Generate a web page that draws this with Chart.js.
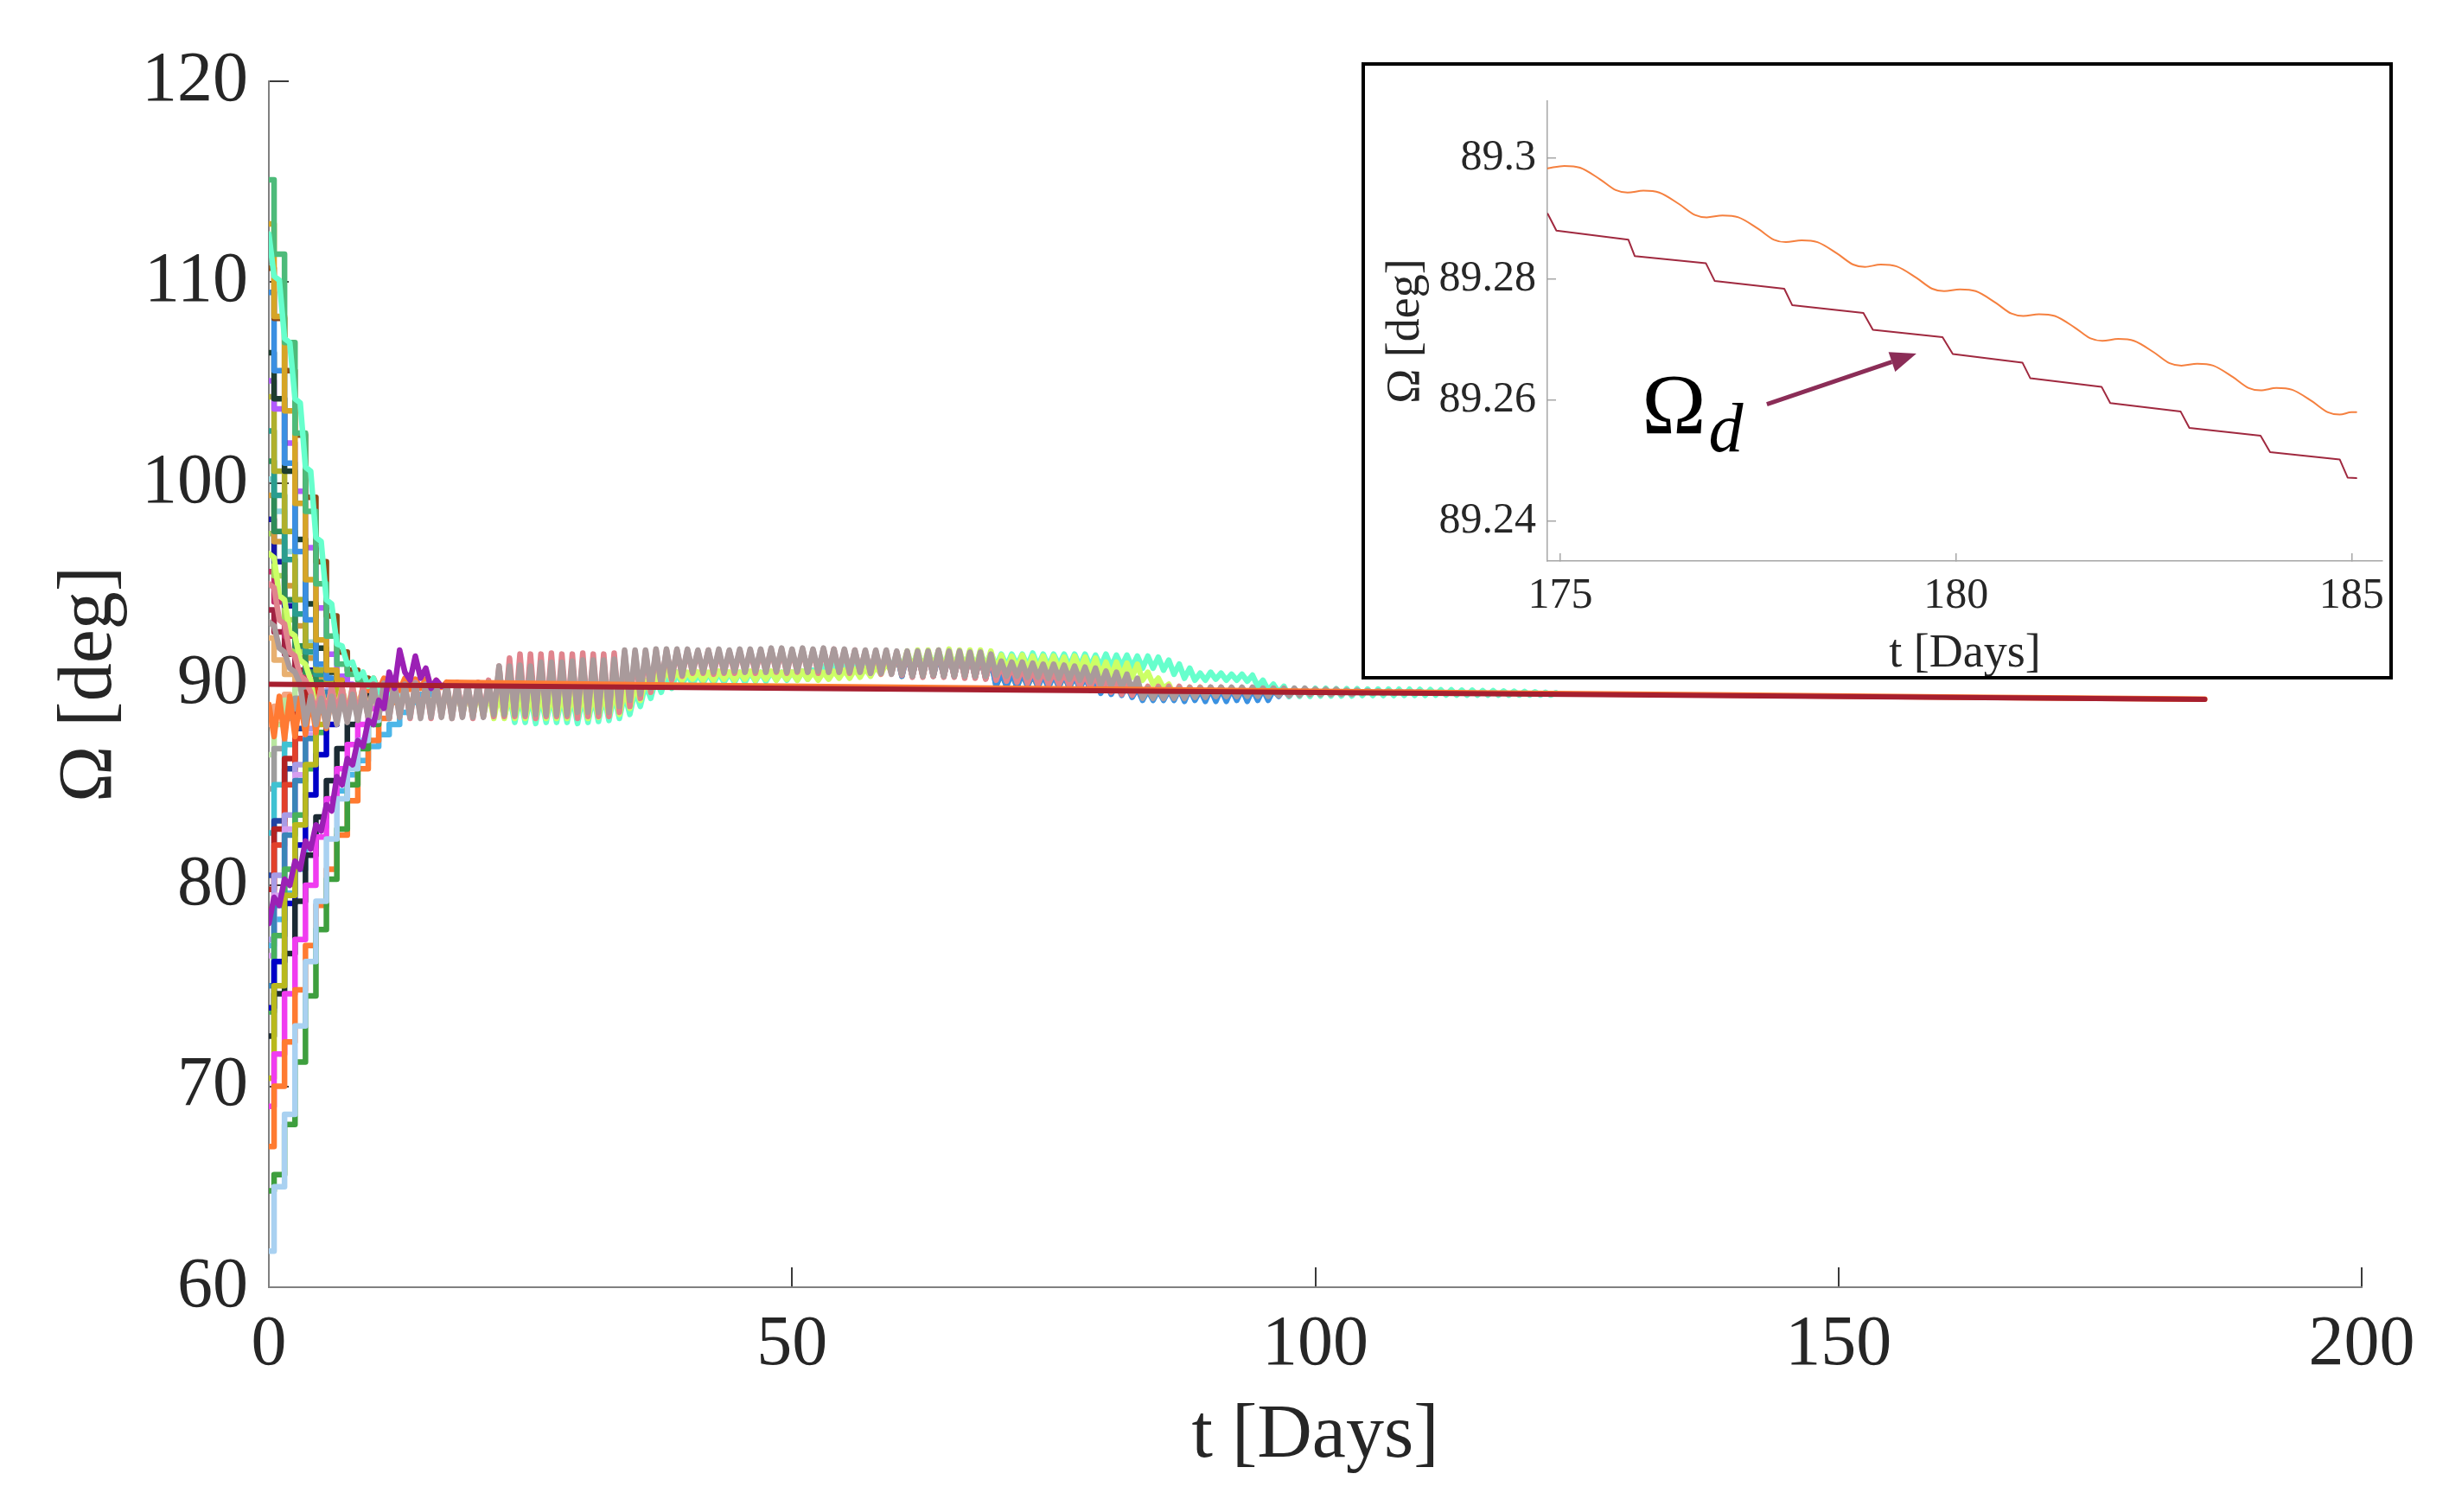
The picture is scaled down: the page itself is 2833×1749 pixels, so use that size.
<!DOCTYPE html>
<html>
<head>
<meta charset="utf-8">
<script src="https://cdn.jsdelivr.net/npm/chart.js@4.4.1/dist/chart.umd.min.js"></script>
<style>
  html, body { margin: 0; padding: 0; background: #fff; overflow: hidden; }
  #main { position: absolute; left: 0; top: 0; }
  #insetBox { position: absolute; left: 1575px; top: 72px; width: 1185px; height: 706px;
              border: 4px solid #000; background: #fff; }
  #inset { position: absolute; left: 0; top: 0; }
</style>
</head>
<body>
<canvas id="main" width="2833" height="1749"></canvas>
<div id="insetBox"><canvas id="inset" width="1185" height="706"></canvas></div>
<script>
// tick labels
var xTicksMain = [0, 50, 100, 150, 200];
var yTicksMain = [60, 70, 80, 90, 100, 110, 120];
var xTicksInset = [175, 180, 185];
var yTicksInset = [89.24, 89.26, 89.28, 89.3];

// desired node Omega_d (straight in the main plot)
var omegaDT = [0, 185];
var omegaDV = [90.0, 89.247];

// transients, one value per day from t = 0
var trGreen    = [115.1, 111.4, 107.0, 102.5, 98.6, 95.0, 92.4, 91.0, 90.5, 90.2];
var trGold     = [112.9, 108.3, 103.6, 99.0, 95.2, 92.2, 90.7, 90.2];
var trBrown    = [110.7, 108.2, 105.6, 102.4, 99.3, 96.1, 93.4, 91.6, 90.7, 90.3, 90.1];
var trBlue     = [109.5, 105.6, 101.0, 96.6, 93.2, 91.0, 90.3];
var trDark     = [106.5, 104.2, 100.6, 97.2, 94.0, 91.8, 90.6, 90.1];
var trViolet   = [105.1, 103.7, 102.0, 99.6, 96.8, 93.8, 91.5, 90.4, 90.0];
var trOlive    = [104.3, 100.6, 97.6, 94.2, 91.9, 90.7, 90.2];
var trTeal     = [102.6, 99.4, 96.2, 93.5, 91.6, 90.5, 90.1];
var trDkGreen  = [101.1, 97.6, 94.2, 91.9, 90.6, 90.1];
var trLtCyan   = [100.2, 98.6, 96.6, 94.2, 92.1, 90.9, 90.3];
var trGold2    = [99.4, 97.1, 94.9, 92.9, 91.3, 90.4];
var trNavy     = [98.2, 96.1, 93.9, 91.9, 90.7, 90.1];
var trLime2    = [97.5, 95.4, 93.2, 91.6, 90.6, 90.2];
var trCrimson  = [95.6, 94.1, 92.4, 91.3, 90.5, 90.1];
var trMaroon   = [93.7, 92.6, 91.5, 90.7, 90.2];
var trPeach    = [92.3, 91.2, 90.5, 90.1];
var trLtBlue   = [61.8, 65.0, 68.6, 73.0, 76.2, 79.2, 82.3, 84.3, 85.8, 87.2, 88.2, 88.9, 89.4, 89.8];
var trGreen2   = [64.8, 65.6, 68.1, 71.2, 74.5, 77.8, 80.3, 82.8, 85.0, 86.8, 88.0, 89.0, 89.6];
var trOrange   = [67.0, 70.0, 72.2, 74.8, 77.0, 79.0, 80.8, 82.5, 84.2, 85.8, 87.2, 88.3, 89.1, 89.6];
var trMagenta  = [69.0, 71.6, 74.6, 77.3, 80.0, 82.4, 84.3, 85.8, 87.0, 88.0, 88.8, 89.4];
var trOlive2   = [70.4, 75.0, 79.5, 83.0, 86.0, 88.0, 89.2, 89.8];
var trBlack    = [72.5, 74.6, 76.6, 79.2, 81.5, 83.4, 85.2, 86.8, 88.0, 89.0, 89.6];
var trBlue2    = [73.9, 76.2, 79.1, 82.0, 84.5, 86.5, 88.0, 89.2];
var trGreen3   = [73.7, 77.5, 80.8, 83.5, 85.8, 87.6, 88.8, 89.6];
var trSteel    = [75.0, 79.0, 82.5, 85.2, 87.3, 88.7, 89.6];
var trOrchid   = [76.5, 79.5, 82.8, 85.5, 87.5, 88.8, 89.6];
var trLavender = [77.3, 80.5, 83.5, 86.0, 87.8, 89.0, 89.7];
var trSky      = [77.0, 78.3, 79.6, 80.8, 81.9, 82.9, 83.8, 84.7, 85.5, 86.2, 86.9, 87.5, 88.0, 88.6, 89.1, 89.5, 89.8];
var trRed      = [78.8, 82.0, 85.0, 87.3, 88.8, 89.7];
var trDkRed    = [79.8, 82.8, 86.3, 88.5, 89.6, 90.0];
var trRoyal    = [80.5, 83.2, 85.8, 87.8, 89.0, 89.7];
var trCyan     = [82.6, 85.0, 87.0, 88.4, 89.4];
var trGray     = [84.8, 86.8, 88.3, 89.3, 89.8];
var trPale     = [86.5, 88.0, 89.2, 89.8];
var trSalmon   = [88.0, 88.9, 89.5];

// oscillating band, one value per half day
var bandPink = [
  95.0, 94.8, 93.2, 93.0, 91.6, 91.4, 90.4, 90.2, 89.6,
  88.5, 89.8, 88.4, 89.9, 88.5, 89.8, 88.4, 89.9, 88.4, 89.9,
  88.3, 90.0, 88.4, 90.0, 88.3, 90.1, 88.4, 90.0, 88.3, 90.1,
  88.4, 90.0, 88.3, 90.1, 88.4, 90.0, 88.3, 90.1, 88.4, 90.0,
  88.3, 90.1, 88.4, 90.2, 88.4, 90.9, 88.4, 91.3,
  88.4, 91.5, 88.4, 91.5, 88.3, 91.5, 88.4, 91.55, 88.4, 91.5,
  88.4, 91.5, 88.3, 91.55, 88.4, 91.5, 88.4, 91.5, 88.4, 91.55,
  88.6, 91.6, 88.9, 91.6, 89.3, 91.65, 89.6, 91.7, 89.95, 91.7,
  90.2, 91.7, 90.4, 91.7,
  90.55, 91.65, 90.55, 91.7, 90.5, 91.65, 90.55, 91.65, 90.55, 91.7,
  90.6, 91.7, 90.55, 91.7, 90.6, 91.75, 90.6, 91.75, 90.55, 91.7,
  90.6, 91.75, 90.6, 91.7, 90.55, 91.75, 90.6, 91.75, 90.6, 91.7,
  90.55, 91.7, 90.6, 91.65, 90.55, 91.65, 90.5, 91.65, 90.5, 91.6, 90.45, 91.6,
  90.35, 91.6, 90.35, 91.6, 90.4, 91.65, 90.35, 91.6, 90.35, 91.6, 90.3, 91.55, 90.3, 91.5, 90.25, 91.3,
  90.2, 90.95, 90.15, 90.9, 90.1, 90.8, 90.05, 90.7, 90.0, 90.65,
  90.0, 90.6, 90.0, 90.55, 89.95, 90.55, 89.9, 90.5, 89.85, 90.45,
  89.7, 90.3, 89.6, 90.2, 89.5, 90.05, 89.45, 89.95,
  89.35, 89.9, 89.35, 89.9, 89.3, 89.9, 89.35, 89.9, 89.35, 89.85,
  89.4, 89.85, 89.4, 89.85, 89.4, 89.85, 89.4, 89.8, 89.4, 89.8,
  89.45, 89.8, 89.45, 89.8, 89.45, 89.8, 89.45, 89.75, 89.45, 89.75,
  89.5, 89.75, 89.5, 89.75, 89.5, 89.7, 89.5, 89.7, 89.55, 89.7, 89.55, 89.7,
  89.55, 89.68, 89.56, 89.66, 89.57, 89.65, 89.57, 89.64, 89.58, 89.63, 89.58, 89.62
];
var bandGray = [
  93.1, 92.9, 91.8, 91.6, 90.8, 90.6, 90.0,
  88.0, 89.4, 88.0, 89.3, 87.9, 89.4, 88.0, 89.4, 88.1, 89.5, 88.2, 89.6,
  88.35, 90.0, 88.35, 90.05, 88.3, 90.0, 88.35, 90.0, 88.35, 90.05, 88.3, 90.0,
  88.35, 90.0, 88.35, 90.05, 88.3, 90.0, 88.35, 90.0, 88.35, 90.05, 88.35, 90.1,
  88.5, 90.9, 88.5, 90.9, 88.5, 90.95, 88.5, 90.9, 88.5, 91.1, 88.5, 91.1,
  88.5, 91.1, 88.5, 91.15, 88.6, 91.2, 88.6, 91.2, 88.6, 91.2, 88.6, 91.25,
  88.9, 91.7, 89.2, 91.7, 89.5, 91.7, 89.8, 91.75, 90.0, 91.75, 90.3, 91.75, 90.45, 91.75,
  90.6, 91.7, 90.6, 91.7, 90.6, 91.75, 90.6, 91.7, 90.65, 91.75,
  90.6, 91.75, 90.65, 91.75, 90.6, 91.8, 90.65, 91.8, 90.6, 91.75,
  90.65, 91.8, 90.6, 91.75, 90.65, 91.8, 90.6, 91.75, 90.6, 91.75,
  90.6, 91.7, 90.6, 91.7, 90.55, 91.7, 90.55, 91.7, 90.5, 91.65, 90.5, 91.65,
  90.4, 91.65, 90.4, 91.65, 90.45, 91.7, 90.4, 91.65, 90.4, 91.65, 90.4, 91.6, 90.4, 91.6, 90.4, 91.5,
  90.45, 91.15, 90.4, 91.1, 90.4, 91.1, 90.35, 91.05, 90.35, 91.0,
  90.3, 91.0, 90.3, 90.95, 90.25, 90.9, 90.2, 90.85, 90.1, 90.8,
  89.95, 90.65, 89.9, 90.6, 89.85, 90.5, 89.7, 90.3,
  89.3, 89.8, 89.3, 89.8, 89.3, 89.8, 89.3, 89.8, 89.3, 89.8, 89.35, 89.8, 89.35, 89.85,
  89.4, 89.85, 89.4, 89.85, 89.4, 89.85, 89.4, 89.85, 89.4, 89.8, 89.4, 89.8, 89.45, 89.8,
  89.45, 89.8, 89.45, 89.8, 89.5, 89.75, 89.5, 89.75, 89.5, 89.75, 89.5, 89.7, 89.5, 89.7,
  89.55, 89.68, 89.56, 89.66, 89.57, 89.65, 89.57, 89.64, 89.58, 89.63, 89.58, 89.62
];
var bandLime = [
  96.5, 96.3, 94.4, 94.2, 92.6, 92.4, 91.2, 91.0, 90.2,
  88.6, 89.8, 88.6, 89.8, 88.7, 89.8, 88.6, 89.85, 88.6, 89.8,
  88.6, 89.8, 88.65, 89.8, 88.6, 89.8, 88.6, 89.85, 88.6, 89.8,
  88.6, 89.8, 88.6, 89.8, 88.55, 89.8, 88.6, 89.75, 88.5, 89.7, 88.4, 89.7, 88.4, 89.65,
  88.3, 89.6, 88.3, 89.6, 88.3, 89.6, 88.3, 89.55, 88.3, 89.6, 88.3, 89.6, 88.3, 89.6,
  88.3, 89.6, 88.35, 89.6, 88.3, 89.6, 88.35, 89.6, 88.4, 89.65, 88.5, 89.7,
  88.8, 89.9, 89.2, 90.2, 89.6, 90.5, 90.0, 90.7,
  90.2, 90.6, 90.2, 90.6, 90.25, 90.6, 90.2, 90.6, 90.2, 90.65,
  90.25, 90.6, 90.2, 90.6, 90.25, 90.65, 90.2, 90.6, 90.25, 90.65,
  90.2, 90.6, 90.25, 90.6, 90.2, 90.65, 90.25, 90.6, 90.2, 90.6,
  90.25, 90.65, 90.3, 90.7, 90.3, 90.75, 90.35, 90.8, 90.4, 90.9, 90.5, 91.1, 90.6, 91.4,
  90.7, 91.65, 90.7, 91.7, 90.7, 91.7, 90.75, 91.7, 90.7, 91.75, 90.7, 91.7, 90.75, 91.7, 90.7, 91.7, 90.7, 91.65,
  90.7, 91.45, 90.7, 91.4, 90.75, 91.45, 90.7, 91.4, 90.7, 91.4,
  90.7, 91.4, 90.7, 91.35, 90.65, 91.4, 90.7, 91.35, 90.6, 91.3,
  90.45, 91.1, 90.4, 91.1, 90.4, 91.05, 90.35, 91.0,
  90.2, 90.6, 90.0, 90.3, 89.8, 90.0,
  89.45, 89.85, 89.45, 89.85, 89.45, 89.85, 89.45, 89.8, 89.45, 89.8, 89.5, 89.8, 89.5, 89.8,
  89.5, 89.75, 89.5, 89.75, 89.5, 89.75, 89.55, 89.7, 89.55, 89.7, 89.55, 89.7, 89.55, 89.68
];
var bandAqua = [
  112.4, 110.3, 110.1, 107.2, 107.0, 104.2, 104.0, 100.8, 100.6,
  97.3, 97.1, 94.2, 94.0, 92.0, 91.9, 91.0, 91.1,
  90.3, 90.6, 89.9, 90.3, 89.5, 90.0, 89.2, 89.8, 89.0, 89.7,
  88.8, 89.65, 88.8, 89.65, 88.85, 89.7, 88.8, 89.65, 88.8, 89.6,
  88.8, 89.65, 88.75, 89.6, 88.7, 89.6, 88.6, 89.5, 88.4, 89.45,
  88.1, 89.4, 88.1, 89.4, 88.05, 89.4, 88.1, 89.45, 88.1, 89.4, 88.1, 89.4,
  88.05, 89.4, 88.1, 89.4, 88.15, 89.45, 88.2, 89.5, 88.3, 89.55,
  88.5, 89.7, 88.9, 90.0, 89.3, 90.3, 89.6, 90.5, 89.8, 90.6, 90.0,
  90.5, 90.0, 90.5, 90.05, 90.55, 90.05, 90.55, 90.1, 90.55, 90.1, 90.6, 90.1, 90.6,
  90.15, 90.6, 90.15, 90.6, 90.2, 90.6, 90.2, 90.6, 90.2, 90.65, 90.25, 90.7,
  90.4, 90.9, 90.45, 91.0, 90.5, 91.1, 90.5, 91.2, 90.55, 91.3, 90.6, 91.35, 90.7, 91.4, 90.75, 91.5, 90.8, 91.55,
  90.85, 91.6, 90.85, 91.6, 90.9, 91.65, 90.85, 91.6, 90.85, 91.6, 90.9, 91.6, 90.85, 91.6, 90.9, 91.55,
  90.9, 91.5, 90.9, 91.5, 90.95, 91.5, 90.9, 91.55, 90.9, 91.5, 90.9, 91.5, 90.95, 91.5, 90.9, 91.5,
  90.9, 91.5, 90.9, 91.45, 90.9, 91.5, 90.85, 91.45, 90.9, 91.45, 90.85, 91.4, 90.8, 91.4, 90.8, 91.35,
  90.7, 91.2, 90.5, 91.0, 90.3, 90.8,
  90.2, 90.55, 90.2, 90.6, 90.25, 90.55, 90.2, 90.5, 90.2, 90.5, 90.15, 90.45,
  89.9, 90.2, 89.7, 90.0, 89.6, 89.9,
  89.4, 89.8, 89.4, 89.8, 89.4, 89.8, 89.42, 89.8, 89.42, 89.78, 89.42, 89.78, 89.42, 89.78,
  89.44, 89.76, 89.44, 89.76, 89.44, 89.76, 89.44, 89.75, 89.45, 89.75, 89.45, 89.74,
  89.45, 89.73, 89.46, 89.72, 89.46, 89.72, 89.46, 89.7, 89.46, 89.7, 89.46, 89.68, 89.46, 89.68,
  89.46, 89.66, 89.46, 89.65, 89.46, 89.64, 89.46, 89.62, 89.46, 89.6, 89.46, 89.58
];
var bandBlue = [
  91.5, 90.4, 91.5, 90.4, 91.5, 90.45, 91.55, 90.4, 91.5, 90.4, 91.5, 90.4, 91.5, 90.4, 91.45, 90.35, 91.4, 90.3, 91.2,
  89.9, 90.6, 89.9, 90.6, 89.85, 90.6, 89.9, 90.55, 89.85, 90.5, 89.8, 90.5, 89.85, 90.5, 89.8, 90.45, 89.75, 90.4, 89.7, 90.3,
  89.55, 90.1, 89.5, 90.05, 89.45, 89.95, 89.35, 89.8,
  89.2, 89.7, 89.2, 89.7, 89.2, 89.7, 89.2, 89.75, 89.15, 89.75, 89.2, 89.7, 89.15, 89.75,
  89.15, 89.75, 89.15, 89.75, 89.2, 89.75, 89.15, 89.75, 89.2, 89.75, 89.2, 89.7,
  89.4, 89.75, 89.4, 89.75, 89.45, 89.72, 89.45, 89.72, 89.48, 89.7, 89.5, 89.7, 89.5, 89.68, 89.52, 89.66
];
var bandGold = [
  91.55, 90.4, 91.55, 90.4, 91.55, 90.4, 91.6, 90.4, 91.55, 90.4, 91.55, 90.4, 91.5, 90.4, 91.5, 90.35, 91.4, 90.3, 91.2,
  89.95, 90.5, 89.95, 90.5, 89.9, 90.5, 89.95, 90.45, 89.9, 90.45, 89.9, 90.45, 89.9, 90.4, 89.85, 90.4, 89.85, 90.35, 89.8, 90.3,
  89.6, 90.2, 89.6, 90.15, 89.55, 90.05, 89.45, 89.9,
  89.35, 89.8, 89.35, 89.8, 89.35, 89.8, 89.35, 89.8, 89.35, 89.8, 89.4, 89.8,
  89.4, 89.8, 89.4, 89.75, 89.4, 89.75, 89.45, 89.75, 89.45, 89.75, 89.45, 89.7
];
var bandOrange = [
  89.0, 87.4, 89.4, 87.3, 89.4, 87.4, 89.3, 87.5, 89.4, 87.6, 89.4, 87.8, 89.5,
  88.3, 89.8, 88.4, 89.8, 88.6, 89.9,
  89.7, 90.3, 89.7, 90.3, 89.75, 90.3, 89.7, 90.3, 89.75, 90.25, 89.8, 90.25, 89.8, 90.2, 89.85, 90.1
];
var bandPurple = [
  78.1, 79.4, 79.0, 80.3, 80.0, 81.2, 80.8, 82.2, 81.8, 83.0, 82.7, 84.0, 83.7, 85.4, 85.0, 86.3, 86.0, 87.2,
  86.9, 88.2, 88.0, 89.2, 88.8, 90.6, 89.8, 91.7, 90.6, 90.2, 91.4, 90.3, 90.8, 89.8, 90.2, 89.9, 90.0
];
var orangeLongT = [17, 40, 60, 80, 100, 120, 140, 160, 175, 185];
var orangeLongV = [90.1, 89.95, 89.85, 89.75, 89.64, 89.55, 89.46, 89.37, 89.30, 89.26];

// inset, t = 175..185
var insetRedT = [174.84, 174.95, 175.86, 175.94, 176.84, 176.95, 177.83, 177.93, 178.83, 178.95, 179.83, 179.96,
                 180.84, 180.94, 181.84, 181.95, 182.84, 182.95, 183.85, 183.97, 184.85, 184.95, 185.06];
var insetRedV = [89.2908, 89.2880, 89.2865, 89.2838, 89.2826, 89.2797, 89.2784, 89.2757, 89.2744, 89.2716, 89.2704, 89.2676,
                 89.2662, 89.2636, 89.2622, 89.2595, 89.2581, 89.2554, 89.2541, 89.2514, 89.2502, 89.2472, 89.2471];
var insetOrangeT = [174.84,
  175.05, 175.25, 175.5, 175.7, 175.85, 176.05, 176.25, 176.5, 176.7, 176.85,
  177.05, 177.25, 177.5, 177.7, 177.85, 178.05, 178.25, 178.5, 178.7, 178.85,
  179.05, 179.25, 179.5, 179.7, 179.85, 180.05, 180.25, 180.5, 180.7, 180.85,
  181.05, 181.25, 181.5, 181.7, 181.85, 182.05, 182.25, 182.5, 182.7, 182.85,
  183.05, 183.25, 183.5, 183.7, 183.85, 184.05, 184.25, 184.5, 184.7, 184.85, 185.0, 185.06];
var insetOrangeV = [89.2983,
  89.2987, 89.2984, 89.2965, 89.2947, 89.2943, 89.2946, 89.2943, 89.2924, 89.2906, 89.2902,
  89.2905, 89.2902, 89.2883, 89.2865, 89.2861, 89.2864, 89.2861, 89.2842, 89.2824, 89.2820,
  89.2824, 89.2821, 89.2802, 89.2784, 89.2780, 89.2783, 89.2780, 89.2761, 89.2743, 89.2739,
  89.2742, 89.2739, 89.2720, 89.2702, 89.2698, 89.2701, 89.2698, 89.2679, 89.2661, 89.2657,
  89.2660, 89.2657, 89.2638, 89.2620, 89.2616, 89.2620, 89.2617, 89.2598, 89.2580, 89.2576, 89.2580, 89.2580];
var omegaLabel = { x: 176.03, y: 89.2545 };
var omegaArrow = { x0: 177.61, y0: 89.2593, x1: 179.50, y1: 89.2677 };

var SERIF = "'Liberation Serif', 'Times New Roman', serif";
var TXT = '#262626';
var LW = 6.5;

function pairs(ts, vs) { return vs.map(function (v, i) { return { x: ts[i], y: v }; }); }
function grid(vs, t0, dt) { return vs.map(function (v, i) { return { x: t0 + i * dt, y: v }; }); }

var transients = [
  [trGreen, '#4dbb7a'], [trGold, '#d6a526'], [trBrown, '#8c4a16'], [trBlue, '#3b8fe2'],
  [trDark, '#1d3d2f'], [trViolet, '#b25cff'], [trOlive, '#b0b02c'], [trTeal, '#2a9d8f'],
  [trDkGreen, '#2f8c58'], [trLtCyan, '#8fd5dc'], [trGold2, '#cf9a3c'], [trNavy, '#1616a6'],
  [trLime2, '#a6d85a'], [trCrimson, '#c2306b'], [trMaroon, '#a12242'], [trPeach, '#e8b070'],
  [trLtBlue, '#a9d1f1'], [trGreen2, '#3e9f3e'], [trOrange, '#ff7b31'], [trMagenta, '#f03cf0'],
  [trOlive2, '#b9b91d'], [trBlack, '#1b2a33'], [trBlue2, '#0000c8'], [trGreen3, '#48b15b'],
  [trSteel, '#3a84b8'], [trOrchid, '#d69ef0'], [trLavender, '#a89ce6'], [trSky, '#4cb6e8'],
  [trRed, '#e2402b'], [trDkRed, '#b22222'], [trRoyal, '#2144a3'], [trCyan, '#3fc2d2'],
  [trGray, '#9e9e9e'], [trPale, '#b9e6a0'], [trSalmon, '#f4a582']
];

function line(data, color, width, extra) {
  var d = { data: data, borderColor: color, borderWidth: width, pointRadius: 0, fill: false, tension: 0,
            borderJoinStyle: 'round', borderCapStyle: 'round' };
  for (var k in extra || {}) d[k] = extra[k];
  return d;
}

// index 0 is drawn on top
var mainSets = [
  line(pairs(omegaDT, omegaDV), '#a61f2f', 6),
  line(pairs(orangeLongT, orangeLongV), '#ff7a33', LW),
  line(grid(bandPurple, 0, 0.5), '#9b20b5', LW),
  line(grid(bandGray, 0, 0.5), '#a99a9b', LW),
  line(grid(bandPink, 0, 0.5), '#e0848d', LW),
  line(grid(bandLime, 0, 0.5), '#ccff66', LW),
  line(grid(bandAqua, 0, 0.5), '#66ffcc', LW),
  line(grid(bandBlue, 60, 0.5), '#3a91e1', LW),
  line(grid(bandGold, 60, 0.5), '#c48b22', LW),
  line(grid(bandOrange, 0, 0.5), '#ff7a33', LW)
];
transients.forEach(function (s) {
  mainSets.push(line(grid(s[0], 0, 1), s[1], LW, { stepped: 'middle' }));
});

function fixedTicks(list) {
  return function (scale) { scale.ticks = list.map(function (v) { return { value: v }; }); };
}
function fitX(h) {
  return function (s) { s.height = h; s.paddingLeft = 0; s.paddingRight = 0; };
}
function fitY(w) {
  return function (s) { s.width = w; s.paddingTop = 0; s.paddingBottom = 0; };
}
function plainLabel(v) { return String(v); }

new Chart(document.getElementById('main'), {
  type: 'line',
  data: { datasets: mainSets },
  options: {
    responsive: false, animation: false, devicePixelRatio: 1, events: [],
    layout: { autoPadding: false, padding: { left: 0, right: 101, top: 94, bottom: 0 } },
    plugins: { legend: { display: false }, tooltip: { enabled: false } },
    scales: {
      x: {
        type: 'linear', min: 0, max: 200,
        afterBuildTicks: fixedTicks(xTicksMain),
        afterFit: fitX(260),
        grid: { drawOnChartArea: false, drawTicks: true, tickLength: -23, color: '#3a3a3a', lineWidth: 2 },
        border: { color: '#808080', width: 2 },
        ticks: { color: TXT, font: { family: SERIF, size: 82 }, padding: 41, maxRotation: 0, autoSkip: false, callback: plainLabel },
        title: { display: true, text: 't [Days]', color: TXT, font: { family: SERIF, size: 88 }, padding: { top: 0, bottom: 34 } }
      },
      y: {
        type: 'linear', min: 60, max: 120,
        afterBuildTicks: fixedTicks(yTicksMain),
        afterFit: fitY(311),
        grid: { drawOnChartArea: false, drawTicks: true, tickLength: -23, color: '#3a3a3a', lineWidth: 2 },
        border: { color: '#808080', width: 2 },
        ticks: { color: TXT, font: { family: SERIF, size: 82 }, padding: 47, autoSkip: false, callback: plainLabel },
        title: { display: true, text: 'Ω [deg]', color: TXT, font: { family: SERIF, size: 88 }, padding: { top: 52, bottom: 0 } }
      }
    }
  }
});

var omegaPlugin = {
  id: 'omegaNote',
  afterDatasetsDraw: function (chart) {
    var ctx = chart.ctx, x = chart.scales.x, y = chart.scales.y;
    var ax0 = x.getPixelForValue(omegaArrow.x0), ay0 = y.getPixelForValue(omegaArrow.y0);
    var ax1 = x.getPixelForValue(omegaArrow.x1), ay1 = y.getPixelForValue(omegaArrow.y1);
    var ang = Math.atan2(ay1 - ay0, ax1 - ax0);
    var hl = 30, hw = 12;
    var bx = ax1 - hl * Math.cos(ang), by = ay1 - hl * Math.sin(ang);
    ctx.save();
    ctx.strokeStyle = '#8b2d57';
    ctx.fillStyle = '#8b2d57';
    ctx.lineWidth = 5;
    ctx.beginPath(); ctx.moveTo(ax0, ay0); ctx.lineTo(bx, by); ctx.stroke();
    ctx.beginPath();
    ctx.moveTo(ax1, ay1);
    ctx.lineTo(bx + hw * Math.sin(ang), by - hw * Math.cos(ang));
    ctx.lineTo(bx - hw * Math.sin(ang), by + hw * Math.cos(ang));
    ctx.closePath(); ctx.fill();
    var lx = x.getPixelForValue(omegaLabel.x), ly = y.getPixelForValue(omegaLabel.y);
    ctx.fillStyle = '#000';
    ctx.textBaseline = 'alphabetic';
    ctx.textAlign = 'left';
    ctx.font = '100px ' + SERIF;
    ctx.fillText('Ω', lx, ly);
    var w = ctx.measureText('Ω').width;
    ctx.font = 'italic 80px ' + SERIF;
    ctx.fillText('d', lx + w + 3, ly + 21);
    ctx.restore();
  }
};

new Chart(document.getElementById('inset'), {
  type: 'line',
  data: {
    datasets: [
      line(pairs(insetRedT, insetRedV), '#a0293f', 2),
      line(pairs(insetOrangeT, insetOrangeV), '#f5803f', 2, { cubicInterpolationMode: 'monotone' })
    ]
  },
  plugins: [omegaPlugin],
  options: {
    responsive: false, animation: false, devicePixelRatio: 1, events: [],
    layout: { autoPadding: false, padding: { left: 0, right: 8, top: 41, bottom: 0 } },
    plugins: { legend: { display: false }, tooltip: { enabled: false } },
    scales: {
      x: {
        type: 'linear', min: 174.836, max: 185.39,
        afterBuildTicks: fixedTicks(xTicksInset),
        afterFit: fitX(133),
        grid: { drawOnChartArea: false, drawTicks: true, tickLength: -9, color: '#a6a6a6', lineWidth: 1.5 },
        border: { color: '#a6a6a6', width: 1.5 },
        ticks: { color: TXT, font: { family: SERIF, size: 50 }, padding: 20, maxRotation: 0, autoSkip: false, callback: plainLabel },
        title: { display: true, text: 't [Days]', color: TXT, font: { family: SERIF, size: 54, lineHeight: 1 }, padding: { top: 0, bottom: -2 } }
      },
      y: {
        type: 'linear', min: 89.2334, max: 89.3094,
        afterBuildTicks: fixedTicks(yTicksInset),
        afterFit: fitY(211),
        grid: { drawOnChartArea: false, drawTicks: true, tickLength: -10, color: '#a6a6a6', lineWidth: 1.5 },
        border: { color: '#a6a6a6', width: 1.5 },
        ticks: { color: TXT, font: { family: SERIF, size: 50 }, padding: 23, autoSkip: false, callback: plainLabel },
        title: { display: true, text: 'Ω [deg]', color: TXT, font: { family: SERIF, size: 54, lineHeight: 1 }, padding: { top: 21, bottom: 0 } }
      }
    }
  }
});
</script>
</body>
</html>
